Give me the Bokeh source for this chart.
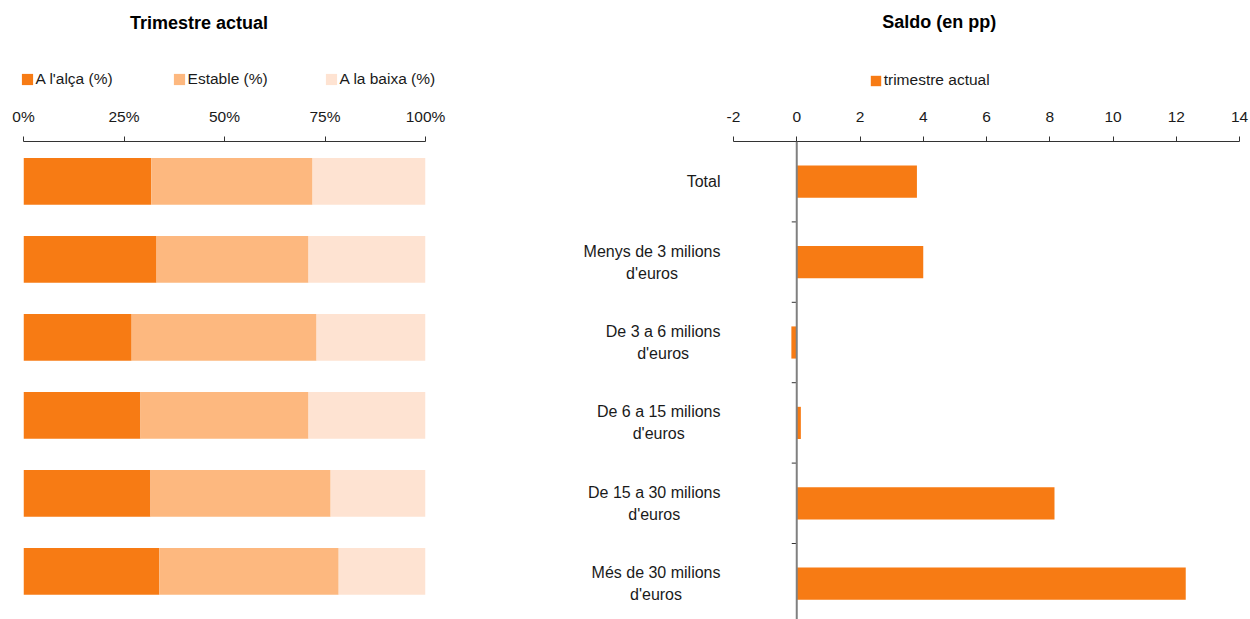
import math
from bokeh.plotting import figure
from bokeh.layouts import row, column
from bokeh.models import (Range1d, FixedTicker, PrintfTickFormatter,
                          Legend, LegendItem, Span, ColumnDataSource)
from bokeh.core.properties import value
from bokeh.embed import file_html
from bokeh.resources import INLINE

FONT = "Liberation Sans"
TXT = "#1a1a1a"
AXC = "#333333"

# ---------------- data ----------------
categories = ["Total",
              "Menys de 3 milions\nd'euros",
              "De 3 a 6 milions\nd'euros",
              "De 6 a 15 milions\nd'euros",
              "De 15 a 30 milions\nd'euros",
              "Més de 30 milions\nd'euros"]
alca = [31.8, 33.1, 26.9, 29.1, 31.6, 33.8]
estable = [40.1, 37.8, 46.0, 41.8, 44.8, 44.6]
baixa = [28.1, 29.1, 27.1, 29.1, 23.6, 21.6]
saldo = [3.8, 4.0, -0.17, 0.13, 8.15, 12.3]

titles = ["Trimestre actual", "Saldo (en pp)"]
left_series = ["A l'alça (%)", "Estable (%)", "A la baixa (%)"]
left_colors = ["#F77B14", "#FDB87F", "#FEE3D2"]
right_series = "trimestre actual"
right_color = "#F77B14"
pct_ticks = [0, 25, 50, 75, 100]
saldo_ticks = [-2, 0, 2, 4, 6, 8, 10, 12, 14]

W, H = 1250, 619
HEAD_H = 90
W1 = 560
FRAME_TOP = 141
FRAME_H = H - FRAME_TOP


def style_axis(ax, standoff):
    ax.axis_line_color = AXC
    ax.major_tick_line_color = AXC
    ax.major_tick_in = 0
    ax.major_tick_out = 5
    ax.minor_tick_line_color = None
    ax.major_label_standoff = standoff
    ax.major_label_text_font = FONT
    ax.major_label_text_font_size = "15.5px"
    ax.major_label_text_color = TXT


def legend_style(**kw):
    base = dict(orientation="horizontal", padding=0, margin=0,
                border_line_color=None, background_fill_alpha=0,
                label_text_font=FONT, label_text_font_size="15.5px",
                label_text_color=TXT)
    base.update(kw)
    return base


# ---------------- header (titles + legends) ----------------
head = figure(width=W, height=HEAD_H, x_range=Range1d(0, W), y_range=Range1d(HEAD_H, 0),
              x_axis_location=None, y_axis_location=None, toolbar_location=None,
              output_backend="svg", min_border=0)
head.grid.visible = False
head.outline_line_color = None
head.text(x=[198.5, 938.7], y=[22, 21], text=titles, text_align="center",
          text_baseline="middle", text_font=value(FONT), text_font_style="bold",
          text_font_size="18px", text_color="#000000")
# legend swatch renderers (zero-width bars, only used for the legend glyphs)
swatch = ColumnDataSource(dict(y=[-1000], r=[0]))
sw_left = [head.hbar(y="y", left=0, right="r", height=1, fill_color=c, line_color=None,
                     source=swatch) for c in left_colors]
sw_right = head.hbar(y="y", left=0, right="r", height=1, fill_color=right_color,
                     line_color=None, source=swatch)
leg1 = Legend(items=[LegendItem(label=n, renderers=[r]) for n, r in zip(left_series, sw_left)],
              location=(19.6, HEAD_H - 87.5), glyph_width=14, glyph_height=14,
              label_height=11, label_standoff=2, label_width=130, spacing=6,
              **legend_style())
leg2 = Legend(items=[LegendItem(label=right_series, renderers=[sw_right])],
              location=(868.7, HEAD_H - 89), glyph_width=13, glyph_height=13,
              label_height=10, label_standoff=2, **legend_style())
head.add_layout(leg1)
head.add_layout(leg2)

ypos = [len(categories) - 0.5 - i for i in range(len(categories))]
bounds = [y - 0.5 for y in ypos[:-1]]

# ---------------- left chart ----------------
left_pitch = 78.0
src1 = ColumnDataSource(dict(y=ypos, alca=alca, estable=estable, baixa=baixa))
p1 = figure(width=W1, height=H - HEAD_H,
            y_range=Range1d(6.01 - FRAME_H / left_pitch, 6.01),
            x_range=Range1d(0, 100), x_axis_location="above", y_axis_location=None,
            toolbar_location=None, output_backend="svg",
            min_border_left=23, min_border_right=W1 - 425,
            min_border_top=FRAME_TOP - HEAD_H, min_border_bottom=0)
p1.hbar_stack(["alca", "estable", "baixa"], y="y", height=0.6,
              fill_color=left_colors, line_color=None, source=src1)
p1.xaxis.ticker = FixedTicker(ticks=pct_ticks)
p1.xaxis.formatter = PrintfTickFormatter(format="%d%%")
style_axis(p1.xaxis[0], 12)
p1.grid.visible = False
p1.outline_line_color = None

# ---------------- right chart ----------------
right_pitch = 80.4
px_per_unit = (1239 - 733) / 16.0
x_start = -2 - (733 - W1) / px_per_unit
src2 = ColumnDataSource(dict(y=ypos, saldo=saldo, cat=categories, lx=[-2] * len(categories)))
p2 = figure(width=W - W1, height=H - HEAD_H, x_range=Range1d(x_start, 14),
            y_range=Range1d(6 - FRAME_H / right_pitch, 6),
            x_axis_location="above", y_axis_location=None,
            toolbar_location=None, output_backend="svg",
            min_border_left=0, min_border_right=11,
            min_border_top=FRAME_TOP - HEAD_H, min_border_bottom=0)
p2.hbar(y="y", left=0, right="saldo", height=0.4, fill_color=right_color,
        line_color=None, source=src2)
p2.xaxis.ticker = FixedTicker(ticks=saldo_ticks)
p2.xaxis.formatter = PrintfTickFormatter(format="%d")
p2.xaxis.bounds = (saldo_ticks[0], saldo_ticks[-1])
style_axis(p2.xaxis[0], 15)
p2.grid.visible = False
p2.outline_line_color = None
p2.add_layout(Span(location=0, dimension="height", line_color="#808080", line_width=2))
p2.ray(x=[0] * len(bounds), y=bounds, length=5, length_units="screen", angle=math.pi,
       line_color=AXC, line_width=1)
p2.text(x="lx", y="y", text="cat", source=src2, x_offset=-13,
        anchor=value("center_right"), text_align=value("center"),
        text_baseline=value("middle"), text_font=value(FONT), text_font_size="16px",
        text_line_height=1.3, text_color=TXT)

layout = column(head, row(p1, p2))
open("out.html", "w").write(file_html(layout, INLINE))
